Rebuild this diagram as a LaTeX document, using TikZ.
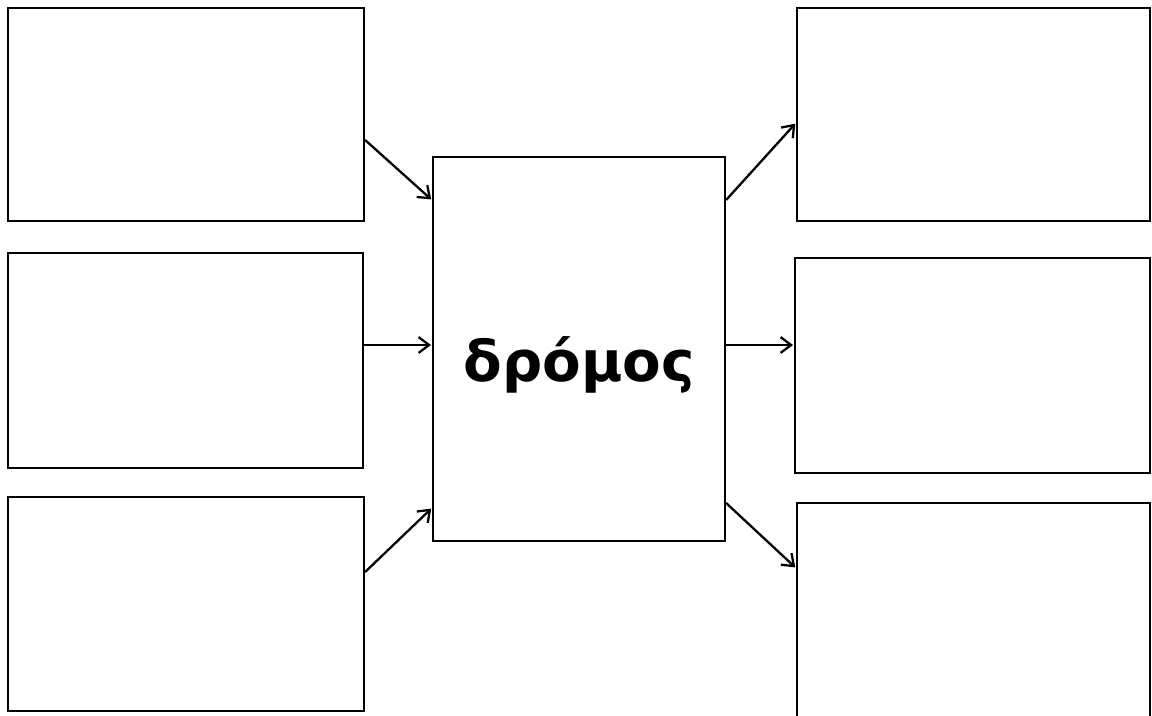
\documentclass[tikz,border=0pt]{standalone}
\usepackage{fontspec}
\setmainfont{DejaVu Sans}
\usetikzlibrary{arrows.meta, positioning, calc}

\begin{document}
\begin{tikzpicture}[x=0.02cm, y=-0.02cm, line width=1.3pt, >={Straight Barb[length=6pt,width=9pt]}]
  \tikzstyle{blank} = [rectangle, draw, inner sep=0pt]
  \tikzstyle{link} = [->, shorten >=0.5pt]

  \useasboundingbox (0,0) rectangle (1152,716);
  \clip (0,0) rectangle (1152,716);

  % left column
  \node[blank, minimum width=7.12cm, minimum height=4.26cm] (InTop) at (186,114.5) {};
  \node[blank, minimum width=7.10cm, minimum height=4.30cm] (InMid) at (185.5,360.5) {};
  \node[blank, minimum width=7.12cm, minimum height=4.28cm] (InBot) at (186,604) {};

  % centre
  \node[blank, minimum width=5.84cm, minimum height=7.68cm, font=\fontsize{32}{38}\selectfont\bfseries] (Road) at (579,349) {\smash{\raisebox{-0.66cm}{δρόμος}}};

  % right column
  \node[blank, minimum width=7.06cm, minimum height=4.26cm] (OutTop) at (973.5,114.5) {};
  \node[blank, minimum width=7.10cm, minimum height=4.30cm] (OutMid) at (972.5,365.5) {};
  \node[blank, minimum width=7.06cm, minimum height=4.44cm] (OutBot) at (973.5,614) {};

  \draw[link] ($(InTop.east)+(0,25.5)$) -- ($(Road.west)+(0,-149)$);
  \draw[link] ($(InMid.east)+(0,-15.5)$) -- ($(Road.west)+(0,-4)$);
  \draw[link] ($(InBot.east)+(0,-32)$) -- ($(Road.west)+(0,159)$);
  \draw[link] ($(Road.east)+(0,-149)$) -- ($(OutTop.west)+(0,8.5)$);
  \draw[link] ($(Road.east)+(0,-4)$) -- ($(OutMid.west)+(0,-20.5)$);
  \draw[link] ($(Road.east)+(0,154)$) -- ($(OutBot.west)+(0,-46)$);
\end{tikzpicture}
\end{document}
